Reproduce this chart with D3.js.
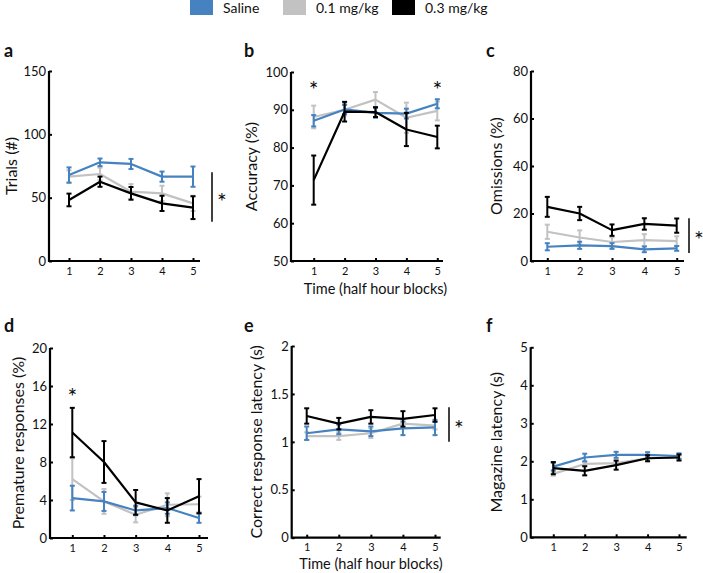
<!DOCTYPE html>
<html><head><meta charset="utf-8">
<script src="https://cdn.jsdelivr.net/npm/d3@7"></script>
<style>
body{margin:0;background:#fff}
svg{display:block}
text{font-family:Lato,"Open Sans",sans-serif;fill:#111}
</style>
</head><body>
<svg id="chart" width="703" height="573"></svg>
<script>
// ---------- data ----------
const blocks = [1, 2, 3, 4, 5];
const seriesNames = ["Saline", "0.1 mg/kg", "0.3 mg/kg"];
const seriesColors = ["#4682bf", "#c2c2c2", "#000000"];

// a: Trials (#)
const trialsSaline = [67.9, 77.9, 76.6, 66.6, 66.6];
const trialsSalineErr = [6, 3, 4, 4, 8];
const trialsLow = [66.6, 68.7, 54.7, 53.4, 45.5];
const trialsLowErr = [5, 5, 6, 6, 6];
const trialsHigh = [48.2, 62.6, 53.4, 45.5, 42.1];
const trialsHighErr = [5, 4, 5, 6, 9];

// b: Accuracy (%)
const accSaline = [87.1, 90.1, 89.2, 89.0, 91.6];
const accSalineErr = [1.5, 1.2, 1.3, 1.3, 1.2];
const accLow = [88.1, 90.0, 92.7, 87.9, 89.7];
const accLowErr = [3, 1.5, 2, 4, 2.5];
const accHigh = [71.4, 89.5, 89.4, 84.8, 82.8];
const accHighErr = [6.5, 2.6, 1.3, 4.4, 3];

// c: Omissions (%)
const omSaline = [6.0, 6.6, 6.3, 4.9, 5.3];
const omSalineErr = [1.5, 1.5, 1.2, 1.2, 1.0];
const omLow = [12.3, 9.9, 8.0, 8.8, 8.4];
const omLowErr = [3, 3, 2, 2.5, 2];
const omHigh = [22.8, 20.0, 13.0, 15.6, 14.9];
const omHighErr = [4.2, 2.8, 2.4, 2.4, 3];

// d: Premature responses (%)
const premSaline = [4.2, 3.85, 2.9, 3.15, 2.1];
const premSalineErr = [1.3, 1.0, 0.5, 0.6, 0.5];
const premLow = [6.2, 3.85, 2.45, 3.5, 3.55];
const premLowErr = [2.2, 1.3, 0.8, 1.2, 0.8];
const premHigh = [11.1, 8.0, 3.75, 2.9, 4.4];
const premHighErr = [2.6, 2.2, 1.3, 1.3, 1.8];

// e: Correct response latency (s)
const crlSaline = [1.09, 1.13, 1.11, 1.14, 1.15];
const crlSalineErr = [0.07, 0.05, 0.05, 0.07, 0.08];
const crlLow = [1.06, 1.06, 1.09, 1.19, 1.17];
const crlLowErr = [0.04, 0.04, 0.05, 0.04, 0.04];
const crlHigh = [1.27, 1.19, 1.26, 1.24, 1.28];
const crlHighErr = [0.08, 0.06, 0.07, 0.08, 0.07];

// f: Magazine latency (s)
const magSaline = [1.86, 2.1, 2.17, 2.17, 2.14];
const magSalineErr = [0.1, 0.1, 0.08, 0.07, 0.07];
const magLow = [1.67, 1.93, 1.95, 2.08, 2.1];
const magLowErr = [0.05, 0.05, 0.05, 0.05, 0.05];
const magHigh = [1.82, 1.75, 1.9, 2.08, 2.1];
const magHighErr = [0.16, 0.12, 0.12, 0.08, 0.08];

// tick labels
const trialsTicks = [0, 50, 100, 150];
const accTicks = [50, 60, 70, 80, 90, 100];
const omTicks = [0, 20, 40, 60, 80];
const premTicks = [0, 4, 8, 12, 16, 20];
const crlTicks = [0, 0.5, 1, 1.5, 2];
const magTicks = [0, 1, 2, 3, 4, 5];

// ---------- layout ----------
const panels = [
  {letter:"a", title:"Trials (#)", ticks:trialsTicks, dom:[0,150],
   s:[trialsSaline,trialsLow,trialsHigh], e:[trialsSalineErr,trialsLowErr,trialsHighErr],
   ax:49, top:71, bot:261, x1:69, x5:193, xend:200, tx:10, lx:4, ly:57,
   sig:{x:212, v0:70, v1:31}, stars:[]},
  {letter:"b", title:"Accuracy (%)", ticks:accTicks, dom:[50,100],
   s:[accSaline,accLow,accHigh], e:[accSalineErr,accLowErr,accHighErr],
   ax:291, top:72, bot:261, x1:313.7, x5:437.3, xend:443, tx:250, lx:244, ly:57,
   xlabel:294, stars:[{b:1, v:96.5},{b:5, v:96.5}]},
  {letter:"c", title:"Omissions (%)", ticks:omTicks, dom:[0,80],
   s:[omSaline,omLow,omHigh], e:[omSalineErr,omLowErr,omHighErr],
   ax:531, top:71, bot:261, x1:547.3, x5:676.7, xend:684, tx:495, lx:486, ly:57,
   sig:{x:689, v0:18, v1:3.4}, stars:[]},
  {letter:"d", title:"Premature responses (%)", ticks:premTicks, dom:[0,20],
   s:[premSaline,premLow,premHigh], e:[premSalineErr,premLowErr,premHighErr],
   ax:50, top:348, bot:538, x1:72.3, x5:199, xend:208, tx:17, lx:4, ly:332,
   stars:[{b:1, v:15.4}]},
  {letter:"e", title:"Correct response latency (s)", ticks:crlTicks, dom:[0,2],
   s:[crlSaline,crlLow,crlHigh], e:[crlSalineErr,crlLowErr,crlHighErr],
   ax:291.7, top:346, bot:537.7, x1:306.7, x5:435, xend:440.7, tx:255, lx:244, ly:332,
   xlabel:569, sig:{x:449, v0:1.36, v1:1.0}, stars:[]},
  {letter:"f", title:"Magazine latency (s)", ticks:magTicks, dom:[0,5],
   s:[magSaline,magLow,magHigh], e:[magSalineErr,magLowErr,magHighErr],
   ax:530.7, top:347.3, bot:537.3, x1:553.3, x5:679, xend:686.7, tx:495, lx:486, ly:332,
   stars:[]}
];

const svg = d3.select("#chart");

// legend
const legendX = [190, 283, 392];
const lg = svg.append("g");
seriesNames.forEach((n, i) => {
  lg.append("rect").attr("x", legendX[i]).attr("y", 0).attr("width", 23).attr("height", 15).attr("fill", seriesColors[i]);
  lg.append("text").attr("x", legendX[i] + 33).attr("y", 13).attr("font-size", 14).text(n);
});

const drawOrder = [1, 0, 2];
const starSize = 23;

function star(g, cx, cy) {
  g.append("text").attr("x", cx).attr("y", cy + starSize * 0.56).attr("text-anchor", "middle")
    .attr("font-family", "'DejaVu Sans', sans-serif").attr("font-size", starSize)
    .attr("fill", "#222").text("*");
}

panels.forEach(p => {
  const g = svg.append("g");
  const x = d3.scaleLinear().domain([1, 5]).range([p.x1, p.x5]);
  const y = d3.scaleLinear().domain(p.dom).range([p.bot, p.top]);

  // y axis ticks + labels
  const ya = g.append("g").attr("transform", `translate(${p.ax},0)`)
    .call(d3.axisLeft(y).tickValues(p.ticks).tickSize(-3).tickSizeOuter(0).tickPadding(3).tickFormat(d => String(d)));
  ya.select(".domain").remove();
  ya.selectAll(".tick line").attr("stroke", "#000").attr("stroke-width", 2);
  ya.selectAll(".tick text").attr("font-size", 13).attr("font-family", "Lato, sans-serif").attr("fill", "#111");

  // x axis ticks + labels
  const xa = g.append("g").attr("transform", `translate(0,${p.bot})`)
    .call(d3.axisBottom(x).tickValues(blocks).tickSize(-3).tickSizeOuter(0).tickPadding(6).tickFormat(d3.format("d")));
  xa.select(".domain").remove();
  xa.selectAll(".tick line").attr("stroke", "#000").attr("stroke-width", 2);
  xa.selectAll(".tick text").attr("font-size", 11).attr("font-family", "Lato, sans-serif").attr("fill", "#111");

  // axis lines
  g.append("path").attr("d", `M${p.ax},${p.top}V${p.bot}H${p.xend}`)
    .attr("fill", "none").attr("stroke", "#000").attr("stroke-width", 2.2);

  // series
  const line = d3.line().x((d, i) => x(blocks[i])).y(d => y(d));
  drawOrder.forEach(si => {
    const vals = p.s[si], errs = p.e[si], col = seriesColors[si];
    g.append("path").datum(vals).attr("d", line).attr("fill", "none")
      .attr("stroke", col).attr("stroke-width", 2.2).attr("stroke-linejoin", "round");
    const eb = g.append("g").attr("stroke", col).attr("stroke-width", 2);
    vals.forEach((v, i) => {
      const cx = x(blocks[i]), yh = y(v + errs[i]), yl = y(v - errs[i]);
      eb.append("line").attr("x1", cx).attr("x2", cx).attr("y1", yh).attr("y2", yl);
      eb.append("line").attr("x1", cx - 2.5).attr("x2", cx + 2.5).attr("y1", yh).attr("y2", yh);
      eb.append("line").attr("x1", cx - 2.5).attr("x2", cx + 2.5).attr("y1", yl).attr("y2", yl);
    });
  });

  // y title
  const my = (p.top + p.bot) / 2;
  g.append("text").attr("transform", `translate(${p.tx},${my}) rotate(-90)`)
    .attr("text-anchor", "middle").attr("dominant-baseline", "central")
    .attr("font-size", 16).text(p.title);

  // panel letter
  g.append("text").attr("x", p.lx).attr("y", p.ly).attr("font-size", 18).attr("font-weight", 700).text(p.letter);

  // x label
  if (p.xlabel) {
    g.append("text").attr("x", (p.x1 + p.x5) / 2).attr("y", p.xlabel).attr("text-anchor", "middle")
      .attr("font-size", 14.5).text("Time (half hour blocks)");
  }

  // significance markers
  if (p.sig) {
    g.append("line").attr("x1", p.sig.x).attr("x2", p.sig.x).attr("y1", y(p.sig.v0)).attr("y2", y(p.sig.v1))
      .attr("stroke", "#000").attr("stroke-width", 1.5);
    star(g, p.sig.x + 10, (y(p.sig.v0) + y(p.sig.v1)) / 2);
  }
  p.stars.forEach(s => star(g, x(s.b), y(s.v)));
});
</script>
</body></html>
